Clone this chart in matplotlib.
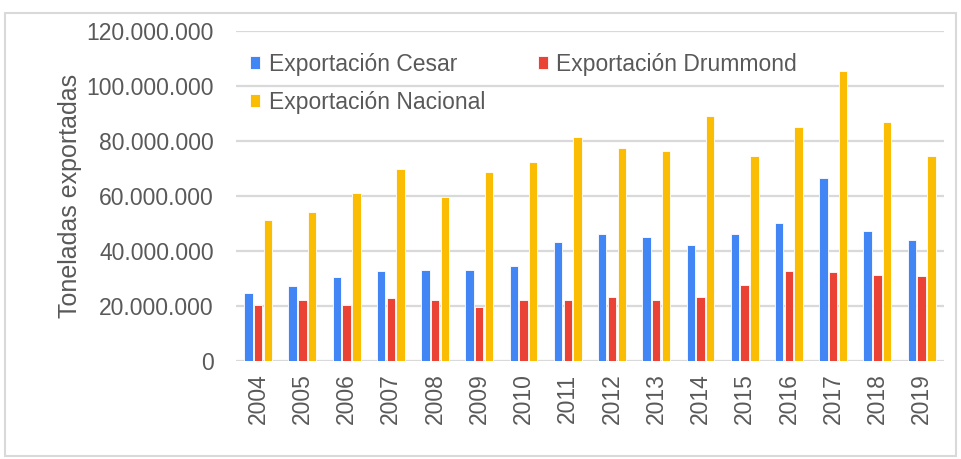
import numpy as np
import matplotlib.pyplot as plt
from matplotlib.patches import Rectangle
from matplotlib.ticker import FuncFormatter

# data (toneladas)
years = ['2004', '2005', '2006', '2007', '2008', '2009', '2010', '2011',
         '2012', '2013', '2014', '2015', '2016', '2017', '2018', '2019']
cesar = [24.6, 27.3, 30.4, 32.7, 33.2, 33.2, 34.5, 43.2,
         46.3, 45.0, 42.3, 46.0, 50.3, 66.7, 47.2, 44.0]
drummond = [20.5, 22.0, 20.5, 22.8, 22.0, 19.6, 22.0, 22.3,
            23.3, 22.0, 23.3, 27.8, 32.7, 32.3, 31.4, 30.9]
nacional = [51.2, 54.3, 61.1, 69.7, 59.8, 68.9, 72.5, 81.3,
            77.3, 76.5, 89.2, 74.7, 85.1, 105.5, 86.9, 74.7]
series_names = ['Exportación Cesar', 'Exportación Drummond', 'Exportación Nacional']
colors = ['#4285F4', '#EA4335', '#FBBC04']

plt.rcParams['font.family'] = ['Liberation Sans', 'DejaVu Sans']
TXT = '#595959'
GRID = '#D9D9D9'

fig = plt.figure(figsize=(9.61, 4.59), dpi=100)
ax = fig.add_axes([0.2456, 0.2135, 0.7364, 0.719])

x = np.arange(len(years))
width = 0.19
step = 0.22
bars = []
for k, (vals, name, col) in enumerate(zip([cesar, drummond, nacional], series_names, colors)):
    b = ax.bar(x + (k - 1) * step, np.array(vals) * 1e6, width, color=col,
               edgecolor='white', linewidth=0.6, label=name, zorder=3)
    bars.append(b)

ax.set_xlim(-0.5, len(years) - 0.5)
ax.set_ylim(0, 120e6)
ax.set_yticks(np.arange(0, 120e6 + 1, 20e6))
ax.yaxis.set_major_formatter(FuncFormatter(lambda v, p: f'{int(v):,}'.replace(',', '.')))
ax.set_xticks(x)
ax.set_xticklabels(years, rotation=90)
ax.tick_params(length=0, labelsize=16.5, labelcolor=TXT)
ax.tick_params(axis='y', pad=16)
ax.tick_params(axis='x', pad=9)
ax.grid(axis='y', color=GRID, linewidth=1.6, zorder=0)
for s in ax.spines.values():
    s.set_visible(False)

ax.set_ylabel('Toneladas exportadas', fontsize=18, color=TXT, labelpad=3)

# legend: two entries on first row, one on second
handles = [bars[0], bars[2], bars[1]]
labels = [series_names[0], series_names[2], series_names[1]]
leg = ax.legend(handles, labels, ncol=2, loc='upper left', bbox_to_anchor=(0.02, 0.934),
                frameon=False, fontsize=16.5, handlelength=0.45, handleheight=0.45,
                handletextpad=0.35, columnspacing=2.3, labelspacing=0.65, borderaxespad=0,
                borderpad=0)
for t in leg.get_texts():
    t.set_color(TXT)

# outer frame
fig.patches.append(Rectangle((5 / 961, 3 / 459), 951 / 961, 443 / 459, transform=fig.transFigure,
                             fill=False, edgecolor=GRID, linewidth=1.5))

fig.savefig('out.png', dpi=100)
